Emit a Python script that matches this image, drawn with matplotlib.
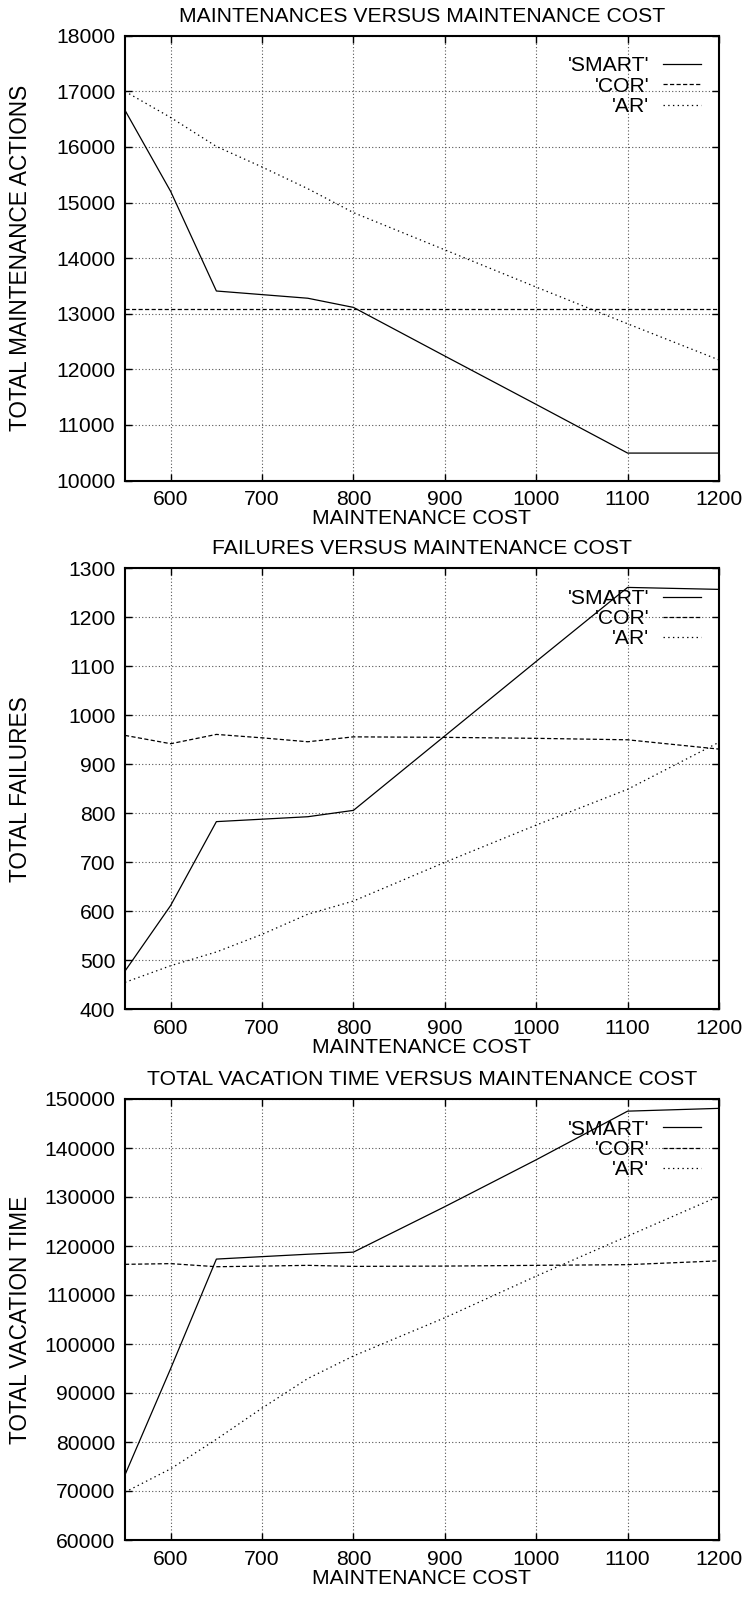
import matplotlib
matplotlib.use("Agg")
import matplotlib.pyplot as plt

plt.rcParams['font.family'] = ['Liberation Sans', 'DejaVu Sans']
plt.rcParams['lines.scale_dashes'] = False

cost = [550, 600, 650, 700, 750, 800, 900, 1000, 1100, 1200]

maint_smart = [16660, 15200, 13410, 13345, 13280, 13115, 12240, 11370, 10495, 10495]
maint_cor = [13080, 13080, 13080, 13080, 13080, 13080, 13080, 13080, 13080, 13080]
maint_ar = [17000, 16530, 16010, 15640, 15250, 14820, 14150, 13480, 12820, 12170]

fail_smart = [478, 612, 783, 788, 793, 806, 958, 1110, 1261, 1257]
fail_cor = [959, 942, 961, 954, 946, 956, 955, 953, 950, 931]
fail_ar = [455, 489, 517, 553, 594, 621, 700, 776, 849, 945]

vac_smart = [73300, 95000, 117330, 117830, 118320, 118750, 128030, 137600, 147520, 148090]
vac_cor = [116260, 116400, 115770, 115900, 116050, 115840, 115900, 116050, 116190, 116970]
vac_ar = [69770, 74530, 80550, 86920, 92950, 97560, 105360, 113860, 122010, 130160]

xticks = [600, 700, 800, 900, 1000, 1100, 1200]
series_names = ["'SMART'", "'COR'", "'AR'"]

panels = [
    dict(title='MAINTENANCES VERSUS MAINTENANCE COST', ylabel='TOTAL MAINTENANCE ACTIONS',
         data=(maint_smart, maint_cor, maint_ar), ylim=(10000, 18000), ystep=1000),
    dict(title='FAILURES VERSUS MAINTENANCE COST', ylabel='TOTAL FAILURES',
         data=(fail_smart, fail_cor, fail_ar), ylim=(400, 1300), ystep=100),
    dict(title='TOTAL VACATION TIME VERSUS MAINTENANCE COST', ylabel='TOTAL VACATION TIME',
         data=(vac_smart, vac_cor, vac_ar), ylim=(60000, 150000), ystep=10000),
]

W, H = 748, 1599
fig = plt.figure(figsize=(W / 100, H / 100), dpi=100)

left_px, right_px = 125, 719
boxes = [(35.8, 480.6), (568.3, 1009.3), (1099, 1540)]

FS = 15.2
FS_Y = 16.3
styles = [
    dict(linestyle='-', color='black', lw=0.9),
    dict(linestyle=(0, (3.0, 1.7)), color='black', lw=0.9),
    dict(linestyle=(0, (1.0, 2.4)), color='black', lw=0.9),
]

for p, (top, bot) in zip(panels, boxes):
    hpx = bot - top
    ax = fig.add_axes([left_px / W, 1 - bot / H, (right_px - left_px) / W, hpx / H])
    for vals, name, st in zip(p['data'], series_names, styles):
        ax.plot(cost, vals, label=name, **st)
    ax.set_xlim(550, 1200)
    ax.set_ylim(*p['ylim'])
    ax.set_xticks(xticks)
    lo, hi = p['ylim']
    ax.set_yticks(list(range(lo, hi + 1, p['ystep'])))
    ax.grid(True, linestyle=(0, (0.8, 1.6)), color='#555555', lw=0.8)
    ax.set_axisbelow(True)
    ax.tick_params(direction='in', length=5, width=1.0, top=True, right=True,
                   labelsize=FS, pad=7)
    for s in ax.spines.values():
        s.set_linewidth(1.5)
    ax.set_title(p['title'], fontsize=FS, pad=10)
    ax.set_xlabel('MAINTENANCE COST', fontsize=FS, labelpad=0)
    ax.set_ylabel(p['ylabel'], fontsize=FS_Y)
    ax.yaxis.label.set_va('center')
    ax.yaxis.set_label_coords((21.0 - left_px) / (right_px - left_px), 0.5)
    ax.legend(loc='upper right', frameon=False, markerfirst=False, fontsize=FS,
              handlelength=1.8, handletextpad=0.65, borderaxespad=0.85,
              borderpad=0.0, labelspacing=0.06, bbox_to_anchor=(1.0, 1.0 - 2.7 / hpx))

fig.savefig('out.png', dpi=100)
